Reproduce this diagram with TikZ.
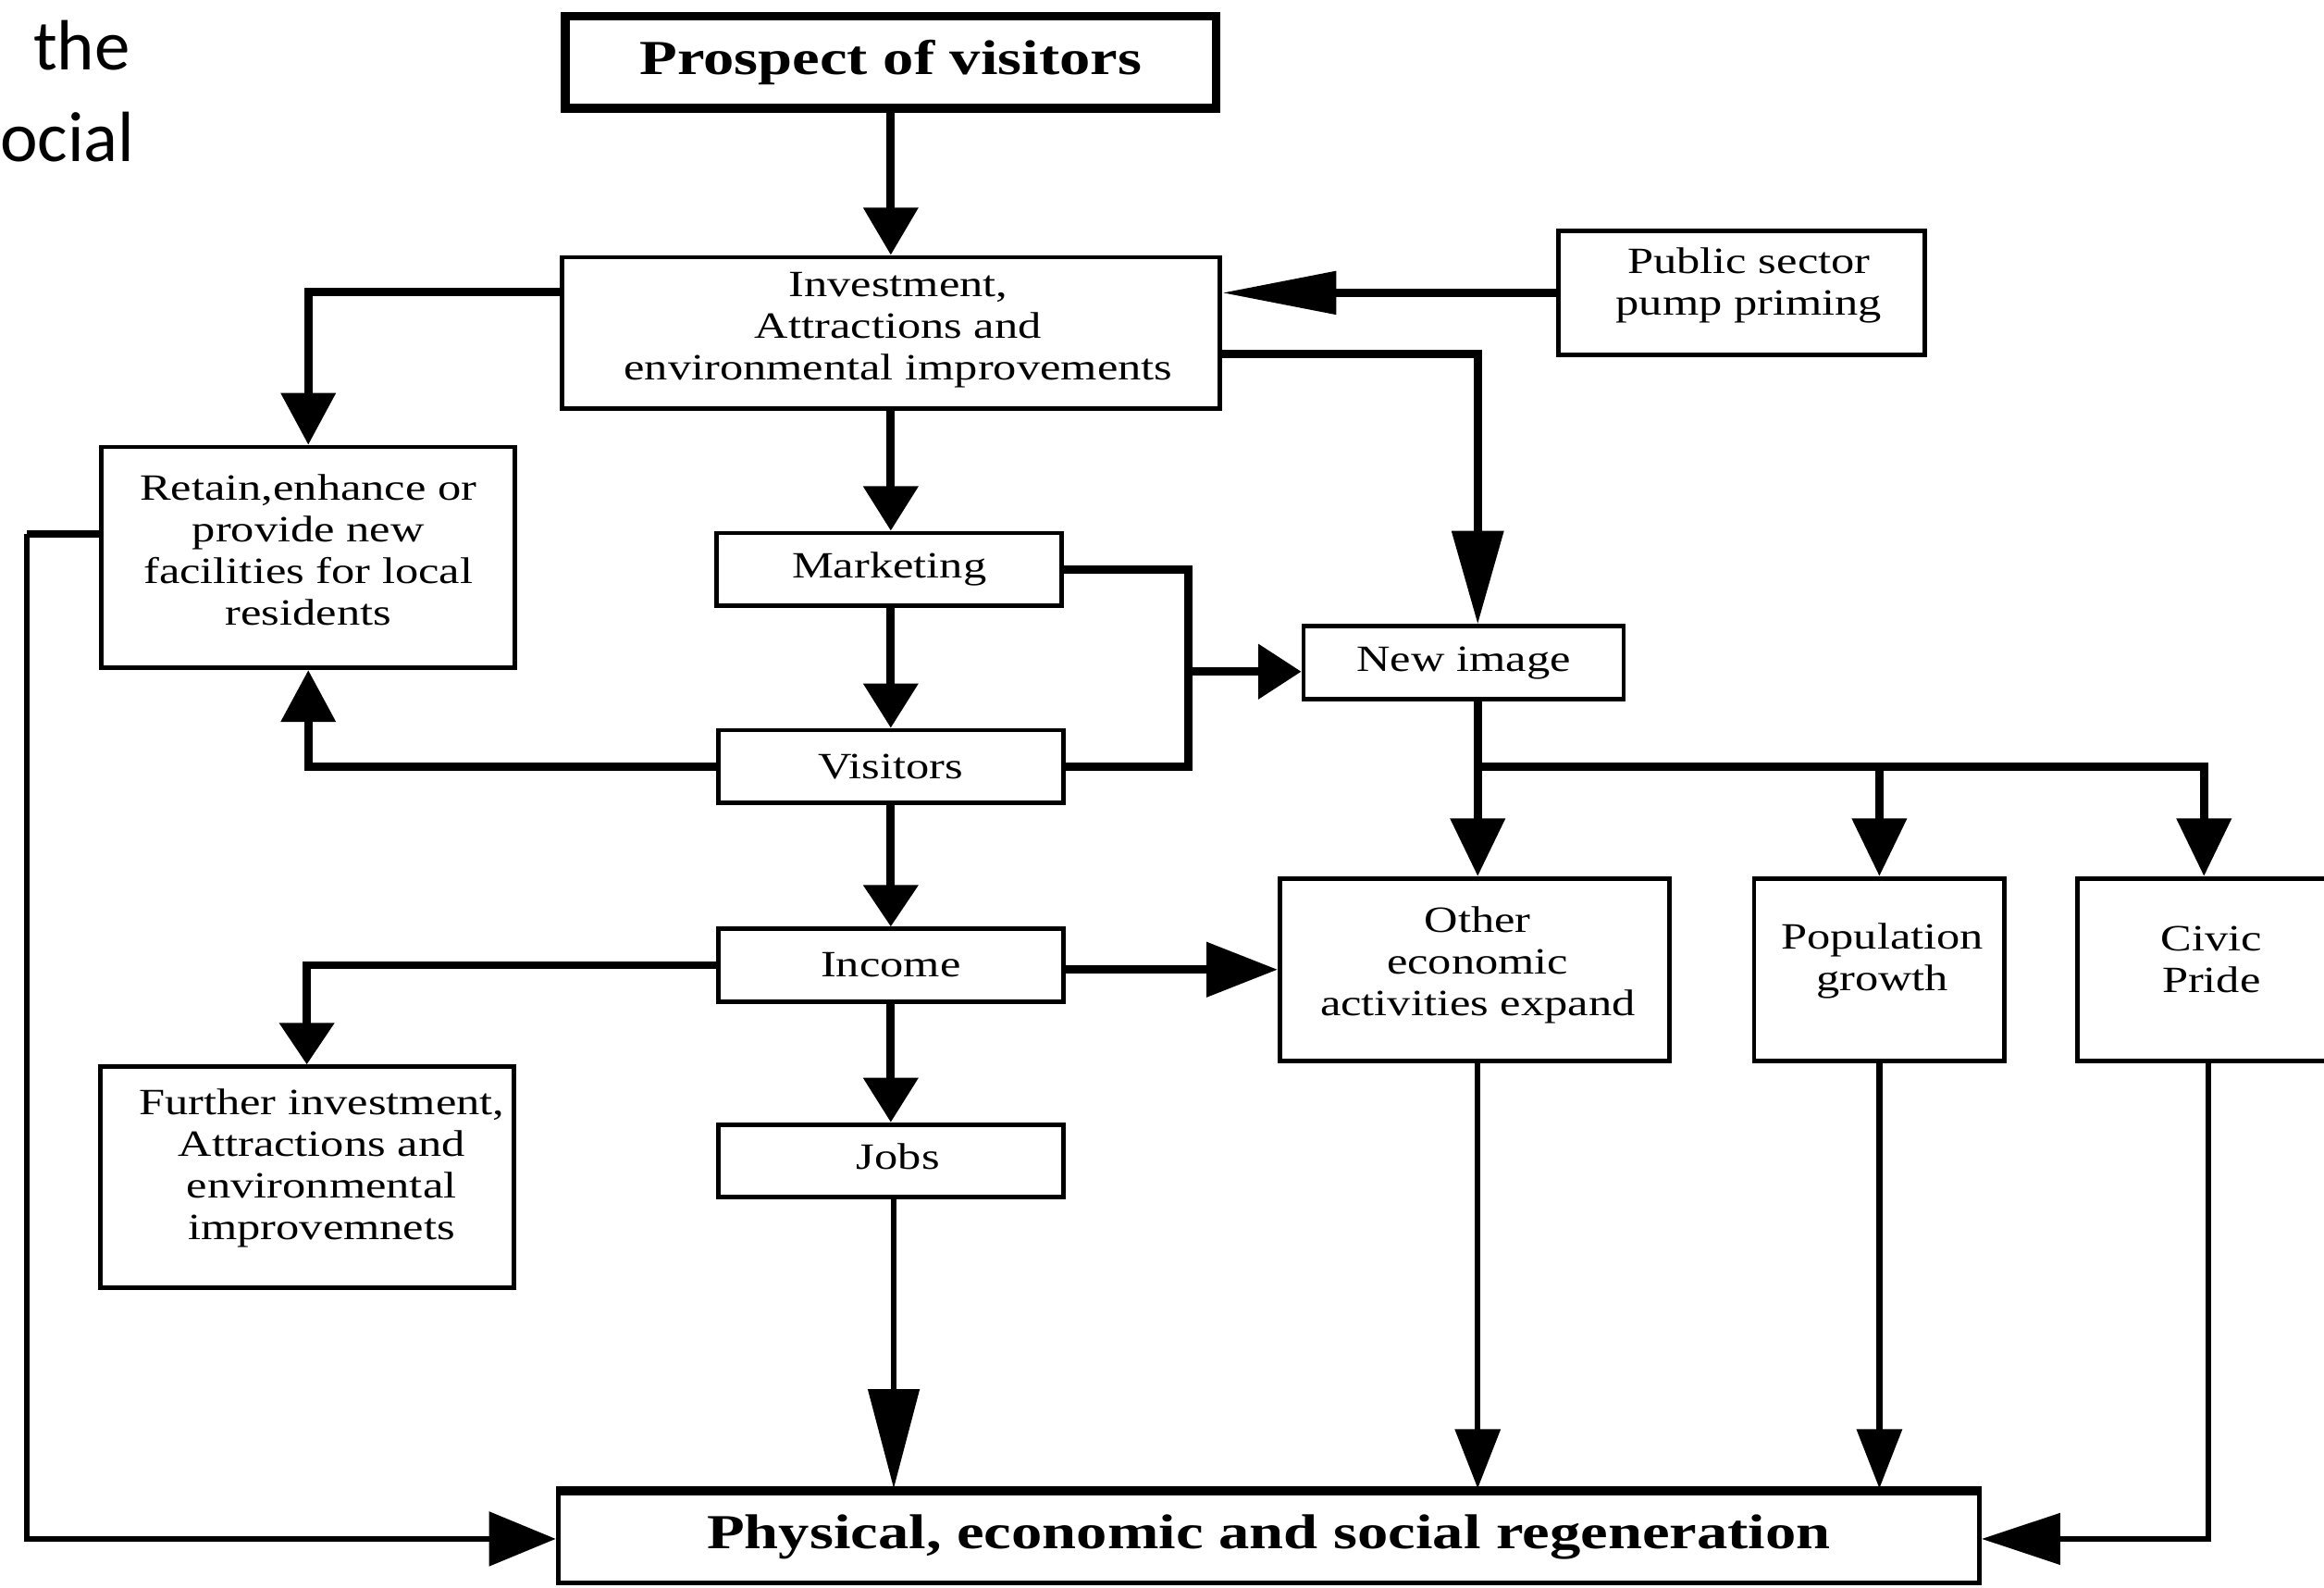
\documentclass[tikz,border=0pt]{standalone}
\usepackage{fontspec}
\setmainfont{Liberation Serif}[FakeStretch=1.26]
\newfontfamily\calibri{Carlito}
\usetikzlibrary{arrows.meta,calc}
\tikzset{
  box/.style={draw, line width=3pt, inner sep=0pt, align=center,
    font=\fontsize{25}{28}\selectfont},
  bigbox/.style={box, font=\bfseries\fontsize{33}{38}\selectfont},
  txt/.style={inner sep=0pt, align=center, font=\fontsize{25}{28}\selectfont},
  conn/.style={line width=5.5pt, line join=miter},
  thin/.style={line width=4pt, line join=miter},
  tip/.style 2 args={-{Triangle[length=#1pt,width=#2pt]}}
}
\begin{document}
\begin{tikzpicture}[x=1pt,y=-1pt]
\useasboundingbox (0,0) rectangle (1568,1071);
\clip (0,0) rectangle (1568,1071);

% slide text fragments
\node[anchor=base east, inner sep=0pt, font=\calibri\fontsize{48}{58}\selectfont] (t1) at (88,47) {the};
\node[anchor=base east, inner sep=0pt, font=\calibri\fontsize{48}{58}\selectfont] (t2) at (91,109) {ocial};

% boxes
\node[bigbox, line width=6pt, minimum width=439pt, minimum height=62pt] (prospect) at (601,42) {Prospect of visitors};
\node[box, minimum width=444pt, minimum height=102pt] (invest) at (601,224.5) {};
\node[txt] (investt) at ([shift={(5,-2)}]invest.center) {Investment,\\Attractions and\\environmental improvements};
\node[box, minimum width=247pt, minimum height=84pt] (public) at (1175,197.5) {};
\node[txt] (publict) at ([shift={(5,-5)}]public.center) {Public sector\\pump priming};
\node[box, minimum width=279pt, minimum height=149pt] (retain) at (208,376) {};
\node[txt] (retaint) at ([shift={(0,-5)}]retain.center) {Retain,enhance or\\provide new\\facilities for local\\residents};
\node[box, minimum width=233pt, minimum height=49pt] (marketing) at (600,384) {Marketing};
\node[box, minimum width=233pt, minimum height=49pt] (visitors) at (601,517) {Visitors};
\node[box, minimum width=216pt, minimum height=49pt] (newimg) at (987.5,447) {New image};
\node[box, minimum width=233pt, minimum height=49pt] (income) at (601,651) {Income};
\node[box, minimum width=263pt, minimum height=123pt] (other) at (995,654) {};
\node[txt] (othert) at ([shift={(2,-3)}]other.center) {Other\\economic\\activities expand};
\node[box, minimum width=169pt, minimum height=123pt] (pop) at (1268,654) {};
\node[txt] (popt) at ([shift={(2,-6)}]pop.center) {Population\\growth};
\node[box, minimum width=181pt, minimum height=123pt] (civic) at (1492,654) {};
\node[txt] (civict) at ([shift={(0,-7)}]civic.center) {Civic\\Pride};
\node[box, minimum width=279pt, minimum height=149pt] (further) at (207,794) {};
\node[txt] (furthert) at ([shift={(10,-6)}]further.center) {Further investment,\\Attractions and\\environmental\\improvemnets};
\node[box, minimum width=233pt, minimum height=49pt] (jobs) at (601,783) {};
\node[txt] (jobst) at ([shift={(5,-3)}]jobs.center) {Jobs};
\node[bigbox, minimum width=959pt, minimum height=62pt] (physical) at (856,1036.5) {Physical, economic and social regeneration};
\draw[line width=6pt] ([yshift=-1.5pt]physical.north west) -- ([yshift=-1.5pt]physical.north east);

% junction coordinates
\coordinate (jn) at (802,453);
\coordinate (br) at (997,517);
\coordinate (lx) at (18,360);

% connectors
\draw[conn, tip={32}{36}] (prospect.south) -- (invest.north);
\draw[conn, tip={30}{36}] (invest.south) -- (invest.south |- marketing.north);
\draw[conn, tip={77}{28}] (public.west) -- (public.west -| invest.east);
\draw[conn, tip={63}{34}] ([yshift=-14.5pt]invest.east) -| (br |- newimg.north);
\draw[conn, tip={35}{36}] ([yshift=27.5pt]invest.west) -| (retain.north);
\draw[conn] (marketing.east) -| (jn) |- (visitors.east);
\draw[conn, tip={29}{36}] (jn) -- (jn -| newimg.west);
\draw[conn, tip={30}{36}] (marketing.south -| visitors.north) -- (visitors.north);
\draw[conn, tip={35}{36}] (visitors.west) -| (retain.south);
\draw[conn, tip={28}{36}] (visitors.south) -- (income.north);
\draw[conn, tip={48}{36}] ([yshift=-3pt]income.east) -- ([yshift=-3pt]income.east -| other.west);
\draw[conn, tip={28}{36}] (income.west) -| (further.north);
\draw[conn, tip={30}{36}] (income.south) -- (jobs.north);
\draw[thin, tip={67}{34}] ([xshift=2pt]jobs.south) -- ([xshift=2pt]jobs.south |- physical.north);
\draw[conn, tip={39}{36}] (br |- newimg.south) -- (br |- other.north);
\draw[conn, tip={39}{36}] (br) -| ([xshift=-5pt]civic.north);
\draw[conn, tip={39}{36}] (br -| pop.north) -- (pop.north);
\draw[thin, tip={40}{30}] (br |- other.south) -- (br |- physical.north);
\draw[thin, tip={40}{30}] (pop.south) -- (pop.south |- physical.north);
\draw[thin, tip={53}{34}] ([xshift=-2pt]civic.south) |- ([yshift=-1.5pt]physical.east);
\draw[line width=5pt] ([yshift=16pt]retain.west) -- (lx);
\draw[thin, tip={45}{36}] (lx) |- ([yshift=-1.5pt]physical.west);
\end{tikzpicture}
\end{document}
